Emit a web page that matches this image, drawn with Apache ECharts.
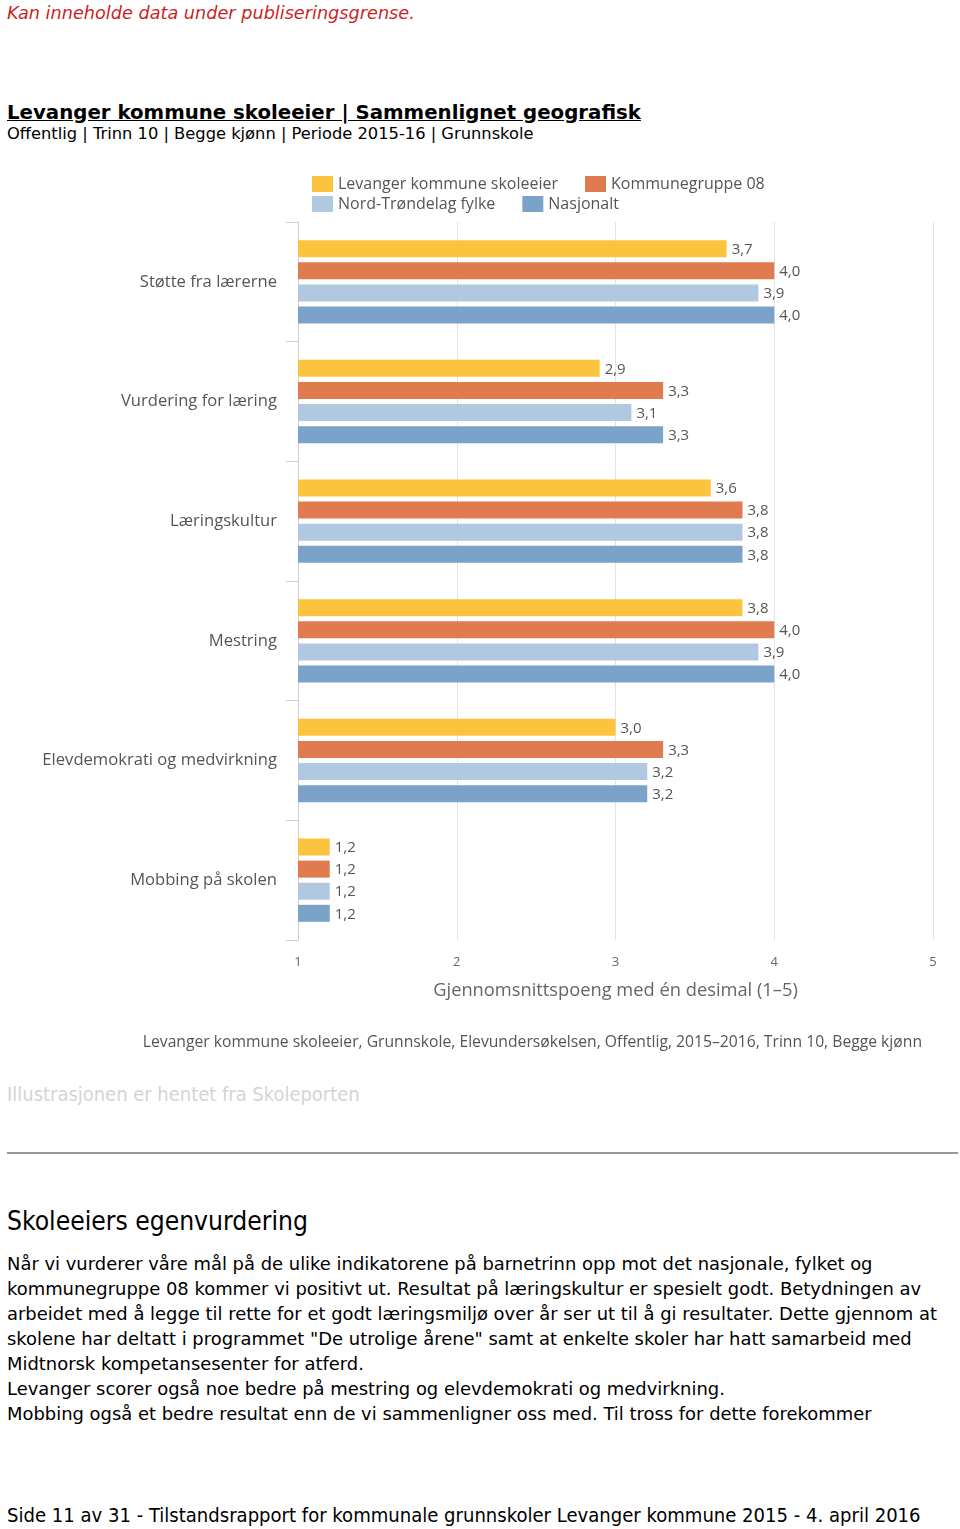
<!DOCTYPE html>
<html>
<head>
<meta charset="utf-8">
<script src="https://cdn.jsdelivr.net/npm/echarts@6/dist/echarts.min.js"></script>
<style>
  html, body { margin: 0; padding: 0; background: #fff; }
  body { width: 960px; height: 1529px; position: relative; overflow: hidden; font-family: "DejaVu Sans", sans-serif; }
  .t { position: absolute; left: 7px; white-space: nowrap; line-height: 1; }
  #chart { position: absolute; left: 0; top: 0; width: 960px; height: 1070px; }
</style>
</head>
<body>
<div class="t fit" data-w="408" style="top:5px; font-size:16px; font-style:italic; color:#cc1f1f;">Kan inneholde data under publiseringsgrense.</div>
<div class="t fit" data-w="634" style="top:103px; font-size:18px; font-weight:bold; color:#000; text-decoration:underline;">Levanger kommune skoleeier | Sammenlignet geografisk</div>
<div class="t fit" data-w="527" style="top:126px; font-size:15px; color:#000;">Offentlig | Trinn 10 | Begge kjønn | Periode 2015-16 | Grunnskole</div>
<div id="chart"></div>
<div class="t fit" data-w="353" style="top:1085px; font-size:17px; color:#d4d4d4; font-family:'DejaVu Sans Condensed','DejaVu Sans',sans-serif;">Illustrasjonen er hentet fra Skoleporten</div>
<div style="position:absolute; left:7px; top:1152px; width:951px; height:2px; background:#9a9a9a;"></div>
<div class="t fit" data-w="301" style="top:1208px; font-size:23px; color:#000; font-family:'DejaVu Sans Condensed','DejaVu Sans',sans-serif;">Skoleeiers egenvurdering</div>
<div id="para">
<div class="t pl" style="top:1255px;">Når vi vurderer våre mål på de ulike indikatorene på barnetrinn opp mot det nasjonale, fylket og</div>
<div class="t pl" style="top:1280px;">kommunegruppe 08 kommer vi positivt ut. Resultat på læringskultur er spesielt godt. Betydningen av</div>
<div class="t pl" style="top:1305px;">arbeidet med å legge til rette for et godt læringsmiljø over år ser ut til å gi resultater. Dette gjennom at</div>
<div class="t pl" style="top:1330px;">skolene har deltatt i programmet "De utrolige årene" samt at enkelte skoler har hatt samarbeid med</div>
<div class="t pl" style="top:1355px;">Midtnorsk kompetansesenter for atferd.</div>
<div class="t pl" style="top:1380px;">Levanger scorer også noe bedre på mestring og elevdemokrati og medvirkning.</div>
<div class="t pl" style="top:1405px;">Mobbing også et bedre resultat enn de vi sammenligner oss med. Til tross for dette forekommer</div>
</div>
<div class="t fit" data-w="914" style="top:1505px; font-size:18px; color:#000; font-family:'DejaVu Sans Condensed','DejaVu Sans',sans-serif;">Side 11 av 31 - Tilstandsrapport for kommunale grunnskoler Levanger kommune 2015 - 4. april 2016</div>
<script>
// ---- data ----
const categories = ['Støtte fra lærerne', 'Vurdering for læring', 'Læringskultur', 'Mestring', 'Elevdemokrati og medvirkning', 'Mobbing på skolen'];
const seriesNames = ['Levanger kommune skoleeier', 'Kommunegruppe 08', 'Nord-Trøndelag fylke', 'Nasjonalt'];
const levanger = [3.7, 2.9, 3.6, 3.8, 3.0, 1.2];
const kommunegruppe = [4.0, 3.3, 3.8, 4.0, 3.3, 1.2];
const fylke = [3.9, 3.1, 3.8, 3.9, 3.2, 1.2];
const nasjonalt = [4.0, 3.3, 3.8, 4.0, 3.2, 1.2];
const xTicks = [1, 2, 3, 4, 5];
const xAxisName = 'Gjennomsnittspoeng med én desimal (1–5)';
const sourceNote = 'Levanger kommune skoleeier, Grunnskole, Elevundersøkelsen, Offentlig, 2015–2016, Trinn 10, Begge kjønn';

// ---- text fitting for page text ----
function fitText() {
  document.querySelectorAll('.fit').forEach(el => {
    const target = +el.dataset.w;
    const w = el.getBoundingClientRect().width;
    const fs = parseFloat(getComputedStyle(el).fontSize);
    el.style.fontSize = (fs * target / w).toFixed(2) + 'px';
  });
  const lines = document.querySelectorAll('.pl');
  lines.forEach(el => el.style.fontSize = '16px');
  const w0 = lines[0].getBoundingClientRect().width;
  const fs = 16 * 866 / w0;
  lines.forEach(el => { el.style.fontSize = fs.toFixed(2) + 'px'; el.style.color = '#000'; });
}
fitText();

// ---- chart ----
const colors = ['#fcc43e', '#df7b4f', '#b0c8e0', '#7ba2c9'];
const values = [levanger, kommunegruppe, fylke, nasjonalt];
const FONT = '"Open Sans", sans-serif';
const chart = echarts.init(document.getElementById('chart'), null, { renderer: 'canvas' });
const legendCommon = {
  orient: 'horizontal', left: 307, itemWidth: 21, itemHeight: 16, itemGap: 27,
  icon: 'rect', textStyle: { color: '#555', fontSize: 16, fontFamily: FONT }, selectedMode: false
};
chart.setOption({
  animation: false,
  color: colors,
  legend: [
    Object.assign({}, legendCommon, { top: 171, data: [seriesNames[0], seriesNames[1]] }),
    Object.assign({}, legendCommon, { top: 191, data: [seriesNames[2], seriesNames[3]] })
  ],
  grid: { left: 298, right: 27, top: 222, height: 718 },
  xAxis: {
    type: 'value', min: xTicks[0], max: xTicks[xTicks.length - 1], interval: 1,
    axisLine: { show: false }, axisTick: { show: false },
    splitLine: { show: true, lineStyle: { color: '#e3e3e3', width: 1 } },
    axisLabel: { color: '#666', fontSize: 13, fontFamily: FONT, margin: 16 },
    name: xAxisName, nameLocation: 'middle', nameGap: 42,
    nameTextStyle: { color: '#666', fontSize: 18.3, fontFamily: FONT }
  },
  yAxis: {
    type: 'category', data: categories, inverse: true,
    axisLine: { show: true, lineStyle: { color: '#cfcfcf' } },
    axisTick: { show: true, length: 12, lineStyle: { color: '#cfcfcf' } },
    axisLabel: { color: '#555', fontSize: 16.6, fontFamily: FONT, margin: 21 }
  },
  series: seriesNames.map((n, i) => ({
    name: n, type: 'bar', data: values[i], barWidth: 17, barGap: '30%',
    itemStyle: { color: colors[i] },
    label: {
      show: true, position: 'right', distance: 5, color: '#555', fontSize: 15, fontFamily: FONT,
      offset: [0, 1],
      formatter: p => p.value.toFixed(1).replace('.', ',')
    }
  })),
  graphic: [{
    type: 'text', right: 38, top: 1035,
    style: { text: sourceNote, fill: '#555', fontSize: 15.7, fontFamily: FONT }
  }]
});
</script>
</body>
</html>
